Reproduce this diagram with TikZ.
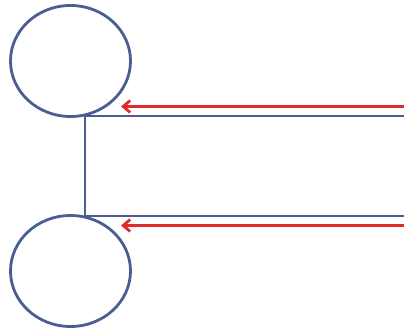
\documentclass[tikz,border=0pt]{standalone}
\usetikzlibrary{shapes.geometric,arrows.meta}
\definecolor{lineblue}{HTML}{4A5E94}
\definecolor{arrred}{HTML}{E02A2A}
\tikzset{
  ball/.style={draw=lineblue, line width=2.8pt, ellipse, minimum width=120pt, minimum height=111pt, inner sep=0pt},
  bar/.style={draw=lineblue, line width=2.8pt},
  force/.style={draw=arrred, line width=2.8pt, -{Straight Barb[length=7pt,width=12pt,line width=2.8pt]}}
}
\begin{document}
\begin{tikzpicture}[x=1pt,y=-1pt]
\useasboundingbox (0,0) rectangle (404,331);
\node[ball] (c1) at (70.5,61) {};
\node[ball] (c2) at (70.5,271) {};
\coordinate (j1) at (85,116);
\coordinate (j2) at (85,216);
\coordinate (r1) at (405,116);
\coordinate (r2) at (405,216);
\coordinate (a1s) at (405,106.5);
\coordinate (a1e) at (121,106.5);
\coordinate (a2s) at (405,225.5);
\coordinate (a2e) at (121,225.5);
\draw[bar] (j1) -- (j2);
\draw[bar] (j1) -- (r1);
\draw[bar] (j2) -- (r2);
\draw[force] (a1s) -- (a1e);
\draw[force] (a2s) -- (a2e);
\end{tikzpicture}
\end{document}
